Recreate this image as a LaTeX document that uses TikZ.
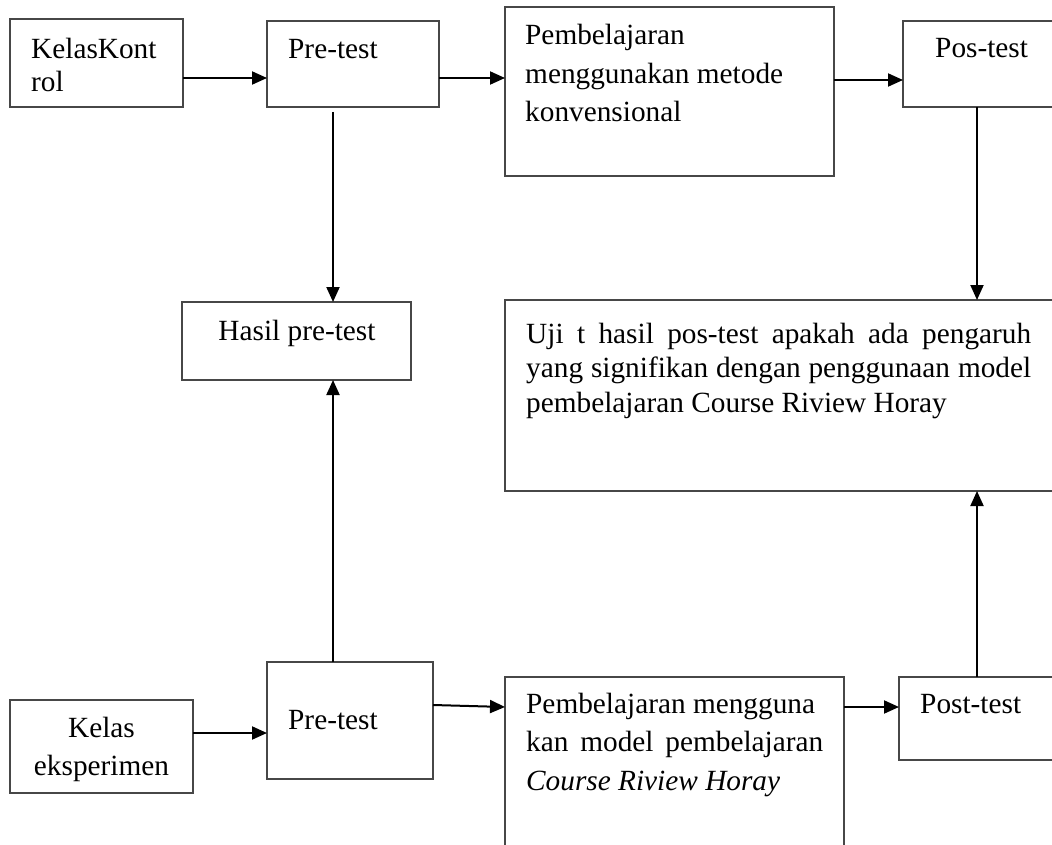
\documentclass[tikz,border=0pt]{standalone}
\usepackage{fontspec}
\setmainfont{Liberation Serif}
\usetikzlibrary{arrows.meta}
\newcommand\bodyfnt{\fontsize{29.3pt}{38pt}\selectfont}
\begin{document}
\begin{tikzpicture}[x=1pt,y=-1pt,
  box/.style={draw=black!72, line width=1.1pt, anchor=north west, inner sep=0pt, outer sep=0pt},
  conn/.style={line width=2pt, -{Triangle[length=15pt,width=13pt]}},
  txt/.style={anchor=base west, inner sep=0pt, font=\bodyfnt}]
\useasboundingbox (0,0) rectangle (1052,845);
\clip (0,0) rectangle (1052,845);
% boxes
\node[box, minimum width=173pt, minimum height=88pt]  (kk)    at (10,19)  {};
\node[box, minimum width=172pt, minimum height=86pt]  (pre1)  at (267,21) {};
\node[box, minimum width=329pt, minimum height=169pt] (pemb1) at (505,7)  {};
\node[box, minimum width=170pt, minimum height=86pt]  (pos1)  at (903,21) {};
\node[box, minimum width=229pt, minimum height=78pt]  (hasil) at (182,302) {};
\node[box, minimum width=570pt, minimum height=191pt] (uji)   at (505,300) {};
\node[box, minimum width=183pt, minimum height=93pt]  (kelas) at (10,700) {};
\node[box, minimum width=166pt, minimum height=117pt] (pre2)  at (267,662) {};
\node[box, minimum width=339pt, minimum height=200pt] (pemb2) at (505,677) {};
\node[box, minimum width=175pt, minimum height=83pt]  (post2) at (899,677) {};
% texts
\node[txt] (tkk) at (31,59) {\vtop{\baselineskip=33pt\hbox{KelasKont}\hbox{rol}}};
\node[txt] (tpre1) at (288,59) {Pre-test};
\node[txt] (tpemb1) at (525,45) {\vtop{\baselineskip=38.5pt\hbox{Pembelajaran}\hbox{menggunakan metode}\hbox{konvensional}}};
\node[txt] (tpos1) at (935,58) {Pos-test};
\node[txt, anchor=base] (thasil) at (297,340) {Hasil pre-test};
\node[txt] (tuji) at (526,343) {\vtop{\baselineskip=34.5pt
  \hbox{\makebox[505pt][s]{Uji t hasil pos-test apakah ada pengaruh}}
  \hbox{\makebox[505pt][s]{yang signifikan dengan penggunaan model}}
  \hbox{pembelajaran Course Riview Horay}}};
\node[txt, anchor=base] (tkelas) at (101.5,737) {\vtop{\baselineskip=38pt\halign{\hfil#\hfil\cr Kelas\cr eksperimen\cr}}};
\node[txt] (tpre2) at (288,729) {Pre-test};
\node[txt] (tpemb2) at (526,713) {\vtop{\baselineskip=38.5pt
  \hbox{Pembelajaran mengguna}
  \hbox{\makebox[297pt][s]{kan model pembelajaran}}
  \hbox{\itshape Course Riview Horay}}};
\node[txt] (tpost2) at (920,713) {Post-test};
% helper coordinates
\coordinate (r1) at (0,78);
\coordinate (r2) at (0,80);
\coordinate (r3) at (0,733);
\coordinate (r4) at (0,705);
\coordinate (r5) at (0,707);
\coordinate (c1) at (333,0);
\coordinate (c2) at (977,0);
% connectors
\draw[conn] (kk.east |- r1) -- (pre1.west |- r1);
\draw[conn] (pre1.east |- r1) -- (pemb1.west |- r1);
\draw[conn] (pemb1.east |- r2) -- (pos1.west |- r2);
\draw[conn] ([yshift=-5pt]pre1.south -| c1) -- (hasil.north -| c1);
\draw[conn] (pos1.south -| c2) -- (uji.north -| c2);
\draw[conn] (pre2.north -| c1) -- (hasil.south -| c1);
\draw[conn] (post2.north -| c2) -- (uji.south -| c2);
\draw[conn] (kelas.east |- r3) -- (pre2.west |- r3);
\draw[conn] (pre2.east |- r4) -- (pemb2.west |- r5);
\draw[conn] (pemb2.east |- r5) -- (post2.west |- r5);
\end{tikzpicture}
\end{document}
